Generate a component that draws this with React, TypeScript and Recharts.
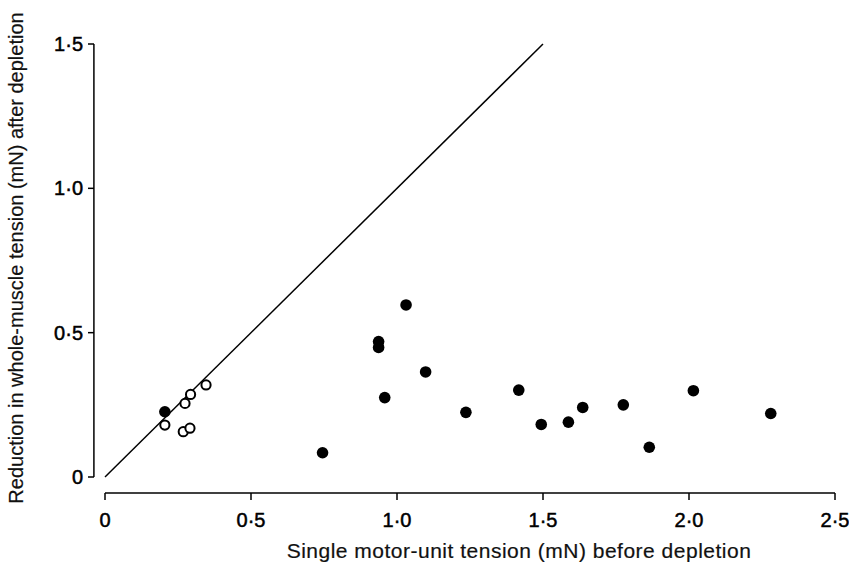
import {
  ScatterChart,
  Scatter,
  XAxis,
  YAxis,
  ReferenceLine,
} from "recharts";

// filled circles
const filledX = [0.205, 0.745, 0.937, 0.937, 1.031, 0.958, 1.098, 1.236, 1.417, 1.494, 1.587, 1.636, 1.775, 1.864, 2.015, 2.28];
const filledY = [0.226, 0.084, 0.469, 0.449, 0.596, 0.275, 0.364, 0.224, 0.301, 0.182, 0.19, 0.241, 0.25, 0.103, 0.299, 0.22];
// open circles
const openX = [0.205, 0.274, 0.293, 0.346, 0.268, 0.291];
const openY = [0.18, 0.255, 0.286, 0.319, 0.157, 0.169];

const xTicks = [0, 0.5, 1, 1.5, 2, 2.5];
const yTicks = [0, 0.5, 1, 1.5];
const fmt = (v: number) => (v === 0 ? "0" : v.toFixed(1).replace(".", "·"));

const filled = filledX.map((x, i) => ({ x, y: filledY[i] }));
const open = openX.map((x, i) => ({ x, y: openY[i] }));

// axes are drawn detached from the data range, as in the original figure
const X_AXIS_AT = -0.055;
const Y_AXIS_AT = -0.038;

const font = "'Liberation Sans', Arial, sans-serif";

const XTick = (props: any) => {
  const { x, y, payload } = props;
  return (
    <g>
      <line x1={x} x2={x} y1={y + 16} y2={y + 23} stroke="#000" strokeWidth={1.5} />
      <text x={x} y={y + 50} textAnchor="middle" fontSize={20} fontFamily={font} fill="#000" stroke="#000" strokeWidth={0.5}>
        {fmt(payload.value)}
      </text>
    </g>
  );
};

const YTick = (props: any) => {
  const { x, y, payload } = props;
  return (
    <g>
      <line x1={x - 17} x2={x - 11} y1={y} y2={y} stroke="#000" strokeWidth={1.5} />
      <text x={x - 22} y={y + 7} textAnchor="end" fontSize={20} fontFamily={font} fill="#000" stroke="#000" strokeWidth={0.5}>
        {fmt(payload.value)}
      </text>
    </g>
  );
};

export default function App() {
  return (
    <div style={{ position: "absolute", left: 0, top: 0, background: "#fff" }}>
      <ScatterChart
        width={849}
        height={565}
        margin={{ top: 44, right: 14, bottom: 0, left: 0 }}
      >
        <XAxis
          type="number"
          dataKey="x"
          domain={[0, 2.5]}
          ticks={xTicks}
          axisLine={false}
          tickLine={false}
          tickSize={0}
          tickMargin={0}
          tick={<XTick />}
          height={88}
          interval={0}
          allowDataOverflow
        />
        <YAxis
          type="number"
          dataKey="y"
          domain={[0, 1.5]}
          ticks={yTicks}
          axisLine={false}
          tickLine={false}
          tickSize={0}
          tickMargin={0}
          tick={<YTick />}
          width={105}
          interval={0}
          allowDataOverflow
        />
        <ReferenceLine
          segment={[{ x: 0, y: X_AXIS_AT }, { x: 2.5, y: X_AXIS_AT }]}
          stroke="#000"
          strokeWidth={1.5}
          ifOverflow="visible"
        />
        <ReferenceLine
          segment={[{ x: Y_AXIS_AT, y: 0 }, { x: Y_AXIS_AT, y: 1.5 }]}
          stroke="#000"
          strokeWidth={1.5}
          ifOverflow="visible"
        />
        <ReferenceLine
          segment={[{ x: 0, y: 0 }, { x: 1.5, y: 1.5 }]}
          stroke="#000"
          strokeWidth={1.5}
          ifOverflow="visible"
        />
        <Scatter
          data={filled}
          isAnimationActive={false}
          shape={(p: any) => <circle cx={p.cx} cy={p.cy} r={5.8} fill="#000" />}
        />
        <Scatter
          data={open}
          isAnimationActive={false}
          shape={(p: any) => (
            <circle cx={p.cx} cy={p.cy} r={4.6} fill="#fff" stroke="#000" strokeWidth={2} />
          )}
        />
        <text x={519} y={558} textAnchor="middle" fontSize={21} letterSpacing={0.5} fontFamily={font} fill="#111" stroke="#111" strokeWidth={0.2}>
          Single motor-unit tension (mN) before depletion
        </text>
        <text
          x={23}
          y={258}
          textAnchor="middle"
          fontSize={20}
          fontFamily={font}
          fill="#111"
          stroke="#111"
          strokeWidth={0.2}
          transform="rotate(-90 23 258)"
        >
          Reduction in whole-muscle tension (mN) after depletion
        </text>
      </ScatterChart>
    </div>
  );
}
